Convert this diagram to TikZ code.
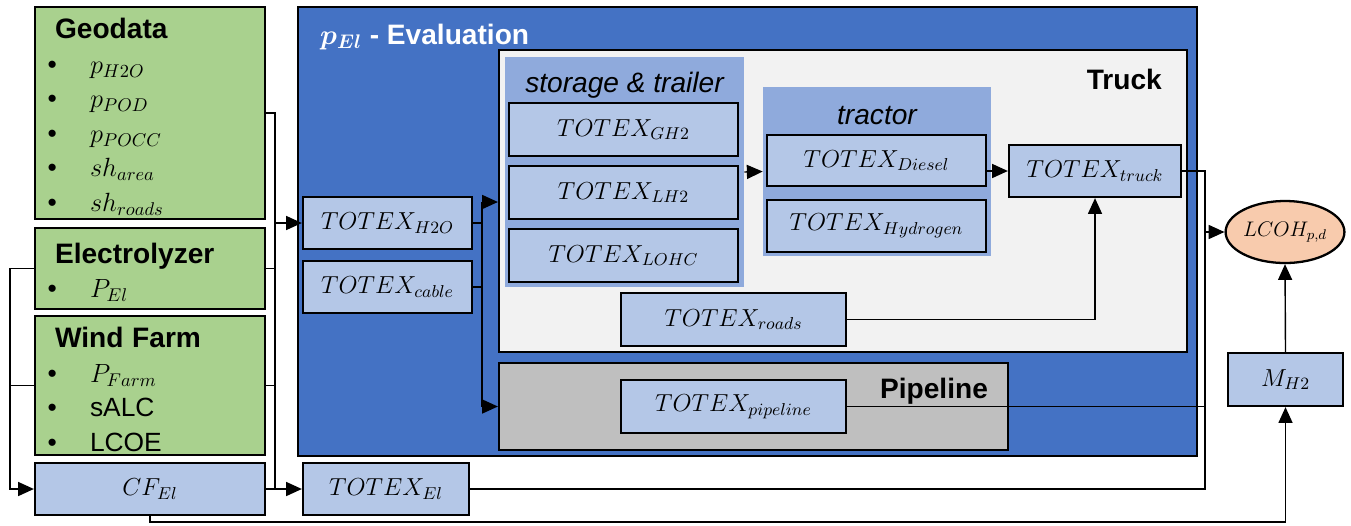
\RequirePackage{fix-cm}
\documentclass[tikz,border=0pt]{standalone}
\usepackage[no-math]{fontspec}
\setmainfont{Liberation Sans}
\usetikzlibrary{arrows.meta, shapes.geometric}

\definecolor{evalblue}{HTML}{4472C4}
\definecolor{truckgray}{HTML}{F2F2F2}
\definecolor{groupblue}{HTML}{8FAADC}
\definecolor{valblue}{HTML}{B4C7E7}
\definecolor{inputgreen}{HTML}{A9D18E}
\definecolor{pipegray}{HTML}{BFBFBF}
\definecolor{resultorange}{HTML}{F8CBAD}

\tikzset{
  box/.style={draw, line width=1.3pt, inner sep=2pt},
  valbox/.style={box, fill=valblue, font=\fontsize{14}{16}\selectfont},
  inputbox/.style={box, fill=inputgreen, minimum width=4.6cm, text width=4.1cm,
    align=left, font=\fontsize{15}{19.6}\selectfont},
  grouparea/.style={fill=groupblue, inner sep=0pt},
  grouplabel/.style={font=\fontsize{16}{18}\selectfont\itshape},
  boxlabel/.style={font=\fontsize{16}{18}\selectfont\bfseries},
  link/.style={line width=0.8pt},
  arr/.style={link, -{Triangle[length=9pt,width=8pt]}}
}
\newcommand{\itm}{\makebox[0.85cm][l]{\textbullet}}
\newcommand{\ttl}[1]{\hspace*{0.15cm}\rule{0pt}{16pt}{\fontsize{16}{19.6}\selectfont\bfseries #1}}

\begin{document}
\begin{tikzpicture}[x=0.02cm, y=-0.02cm]
  \useasboundingbox (0,0) rectangle (1351,525);

  % input data
  \node[inputbox, minimum height=4.24cm] (geo) at (150,113)
    {\ttl{Geodata}\\ \itm$p_{H2O}$\\ \itm$p_{POD}$\\ \itm$p_{POCC}$\\
     \itm$sh_{area}$\\ \itm$sh_{roads}$};
  \node[inputbox, minimum height=1.62cm] (elec) at (150,268.5)
    {\ttl{Electrolyzer}\\ \itm$P_{El}$};
  \node[inputbox, minimum height=2.7cm] (wind) at (150,385.5)
    {\ttl{Wind Farm}\\ \itm$P_{Farm}$\\ \itm sALC\\ \itm LCOE};
  \node[valbox, minimum width=4.6cm, minimum height=1.04cm] (cf) at (150,489) {$CF_{El}$};

  % evaluation frame
  \node[box, fill=evalblue, minimum width=17.98cm, minimum height=8.98cm] (eval) at (747.5,231.5) {};
  \node[anchor=west, text=white, boxlabel] (evaltitle) at (314,37) {{\boldmath$p_{El}$} - Evaluation};
  \node[valbox, minimum width=3.38cm, minimum height=1.04cm] (h2o) at (387.5,223) {$TOTEX_{H2O}$};
  \node[valbox, minimum width=3.38cm, minimum height=1.04cm] (cable) at (387.5,287) {$TOTEX_{cable}$};

  % truck
  \node[box, fill=truckgray, minimum width=13.76cm, minimum height=6.04cm] (truck) at (843,201) {};
  \node[anchor=east, boxlabel] (trucklabel) at (1168,79) {Truck};
  \node[grouparea, minimum width=4.78cm, minimum height=4.6cm] (storage) at (624.5,172) {};
  \node[grouplabel] (storagelabel) at (624.5,85) {storage \& trailer};
  \node[valbox, minimum width=4.58cm, minimum height=1.06cm] (gh2) at (623.5,129.5) {$TOTEX_{GH2}$};
  \node[valbox, minimum width=4.58cm, minimum height=1.06cm] (lh2) at (623.5,192.5) {$TOTEX_{LH2}$};
  \node[valbox, minimum width=4.58cm, minimum height=1.06cm] (lohc) at (623.5,255.5) {$TOTEX_{LOHC}$};
  \node[grouparea, minimum width=4.56cm, minimum height=3.38cm] (tractor) at (877,171.5) {};
  \node[grouplabel] (tractorlabel) at (877,116) {tractor};
  \node[valbox, minimum width=4.38cm, minimum height=1.02cm] (diesel) at (876.5,160.5) {$TOTEX_{Diesel}$};
  \node[valbox, minimum width=4.38cm, minimum height=1.04cm] (hydrogen) at (876.5,226) {$TOTEX_{Hydrogen}$};
  \node[valbox, minimum width=3.44cm, minimum height=1.04cm] (truckcost) at (1095,171) {$TOTEX_{truck}$};
  \node[valbox, minimum width=4.5cm, minimum height=1.06cm] (roads) at (733.5,319.5) {$TOTEX_{roads}$};

  % pipeline
  \node[box, fill=pipegray, minimum width=10.18cm, minimum height=1.74cm] (pipe) at (753.5,406.5) {};
  \node[boxlabel] (pipelabel) at (934,391) {Pipeline};
  \node[valbox, minimum width=4.5cm, minimum height=1.06cm] (pipecost) at (733.5,406.5) {$TOTEX_{pipeline}$};

  \node[valbox, minimum width=3.32cm, minimum height=1.04cm] (elcost) at (386,489) {$TOTEX_{El}$};

  % result
  \node[draw, line width=1.3pt, ellipse, fill=resultorange, minimum width=2.32cm, minimum height=1.24cm,
    inner sep=0pt, font=\fontsize{12}{14}\selectfont] (lcoh) at (1285,232) {$LCOH_{p,d}$};
  \node[valbox, minimum width=2.3cm, minimum height=1.06cm] (mh2) at (1285.5,379.5) {$M_{H2}$};

  % bus points
  \coordinate (busin) at (275,489);
  \coordinate (busleft) at (10,268.5);
  \coordinate (busmid) at (482,202);
  \coordinate (busout) at (1205,489);
  \coordinate (busbot) at (1285.5,522);

  % connectors
  \draw[link] (geo.east) -| (busin);
  \draw[link] (elec.east) -- (elec.east -| busin);
  \draw[link] (wind.east) -- (wind.east -| busin);
  \draw[arr] (h2o.west -| busin) -- (h2o.west);
  \draw[arr] (cf.east) -- (elcost.west);
  \draw[arr] (elec.west) -- (busleft) |- (cf.west);
  \draw[link] (wind.west) -- (wind.west -| busleft);
  \draw[link] (h2o.east) -- (h2o.east -| busmid);
  \draw[link] (cable.east) -- (cable.east -| busmid);
  \draw[arr] (busmid) -- (busmid -| truck.west);
  \draw[arr] (busmid) |- (pipe.west);
  \draw[arr] (storage.east) -- (tractor.west);
  \draw[arr] (diesel.east |- truckcost.west) -- (truckcost.west);
  \draw[arr] (roads.east) -| (truckcost.south);
  \draw[link] (truckcost.east) -| (busout) -- (elcost.east);
  \draw[link] (pipecost.east) -- (pipecost.east -| busout);
  \draw[arr] (lcoh.west -| busout) -- (lcoh.west);
  \draw[arr] (mh2.north) -- (lcoh.south);
  \draw[arr] (cf.south) |- (busbot) -- (mh2.south);
\end{tikzpicture}
\end{document}
